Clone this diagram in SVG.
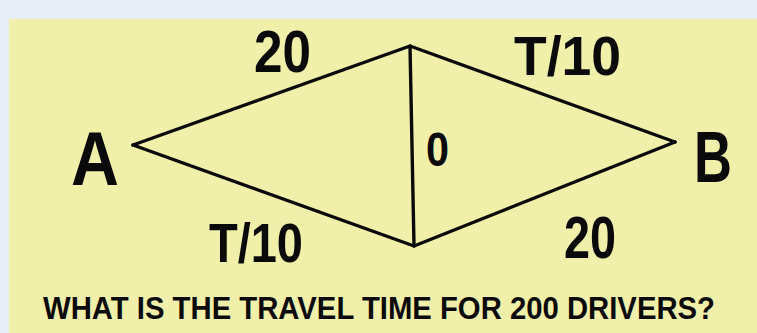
<svg xmlns="http://www.w3.org/2000/svg" width="757" height="333" viewBox="0 0 757 333">
<style>
.lbl{font-family:"Liberation Sans",Arial,sans-serif;font-weight:bold;fill:#0a0a0a}
.edge{stroke:#0a0a0a;stroke-width:3.4;fill:none;stroke-linecap:round;stroke-linejoin:round}
</style>
<rect x="0" y="0" width="757" height="333" fill="#e8eef6"/>
<rect x="9" y="19" width="748" height="314" fill="#f1f0ab"/>
<g id="connectors">
<path class="edge" d="M133 145 L410 46 L675 142"/>
<path class="edge" d="M133 145 L414 246 L675 142"/>
<path class="edge" d="M410 46 L414 246"/>
</g>
<g id="node-A"><text class="lbl" x="71" y="185" font-size="76" textLength="48" lengthAdjust="spacingAndGlyphs">A</text></g>
<g id="node-B"><text class="lbl" x="694" y="182" font-size="72" textLength="38" lengthAdjust="spacingAndGlyphs">B</text></g>
<g id="labels">
<text class="lbl" x="254" y="72" font-size="60" textLength="57" lengthAdjust="spacingAndGlyphs">20</text>
<text class="lbl" x="514" y="75" font-size="56" textLength="107" lengthAdjust="spacingAndGlyphs">T/10</text>
<text class="lbl" x="426" y="166" font-size="48" textLength="23" lengthAdjust="spacingAndGlyphs">0</text>
<text class="lbl" x="209" y="262" font-size="55" textLength="94" lengthAdjust="spacingAndGlyphs">T/10</text>
<text class="lbl" x="564" y="258" font-size="60" textLength="52" lengthAdjust="spacingAndGlyphs">20</text>
<text class="lbl" x="43" y="319" font-size="31" textLength="672" lengthAdjust="spacingAndGlyphs">WHAT IS THE TRAVEL TIME FOR 200 DRIVERS?</text>
</g>
</svg>
